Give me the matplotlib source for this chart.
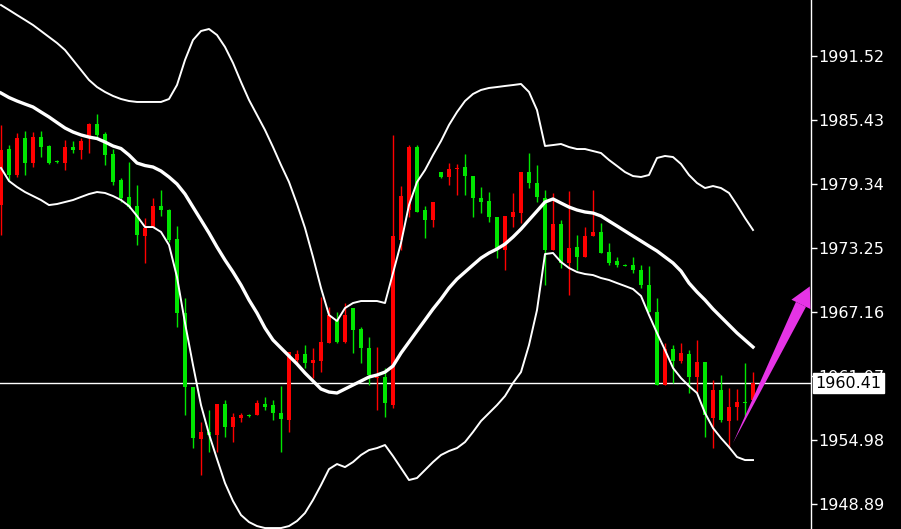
import numpy as np
import matplotlib
matplotlib.use("Agg")
import matplotlib.pyplot as plt

# K线数据 (开, 高, 低, 收)
opens = [1977.34, 1982.67, 1980.20, 1983.72, 1981.34, 1983.81, 1982.96, 1981.53, 1981.34, 1982.86,
         1982.58, 1983.81, 1985.05, 1984.10, 1982.20, 1979.72, 1978.11, 1977.25, 1974.39, 1975.25,
         1977.25, 1976.87, 1974.11, 1967.07, 1960.03, 1955.08, 1955.75, 1955.46, 1958.41, 1956.22,
         1957.08, 1957.36, 1957.36, 1958.41, 1958.31, 1957.55, 1956.89, 1962.60, 1963.17, 1962.31,
         1962.50, 1964.21, 1966.40, 1964.31, 1967.54, 1965.55, 1963.74, 1960.88, 1960.98, 1958.31,
         1974.01, 1976.87, 1982.86, 1976.87, 1975.92, 1980.48, 1980.01, 1980.77, 1980.96, 1980.10,
         1978.01, 1977.73, 1976.20, 1973.06, 1976.20, 1976.58, 1980.48, 1979.44, 1978.01, 1973.06,
         1975.54, 1971.83, 1973.35, 1972.40, 1974.39, 1974.78, 1972.87, 1972.02, 1971.64, 1971.64,
         1971.16, 1969.73, 1967.16, 1960.22, 1963.64, 1962.50, 1963.17, 1960.98, 1962.41, 1957.08,
         1959.74, 1956.79, 1958.12, 1958.60, 1958.79]
highs = [1984.96, 1983.05, 1984.19, 1984.39, 1984.29, 1984.39, 1983.05, 1981.63, 1983.53, 1983.43,
         1983.72, 1985.15, 1986.00, 1984.29, 1982.67, 1979.91, 1981.44, 1979.25, 1976.11, 1978.01,
         1978.77, 1976.96, 1975.35, 1968.50, 1960.03, 1956.70, 1957.84, 1958.41, 1958.79, 1957.55,
         1957.55, 1957.46, 1958.79, 1959.08, 1958.79, 1960.12, 1963.36, 1963.55, 1964.02, 1963.74,
         1968.59, 1967.64, 1967.16, 1968.02, 1967.54, 1965.74, 1964.78, 1963.83, 1961.84, 1984.01,
         1979.15, 1983.05, 1983.05, 1977.25, 1977.63, 1980.48, 1981.34, 1981.25, 1982.20, 1980.10,
         1979.06, 1978.58, 1976.20, 1976.30, 1978.49, 1980.48, 1982.29, 1981.15, 1978.77, 1978.49,
         1975.92, 1978.68, 1974.49, 1975.25, 1978.77, 1975.63, 1973.73, 1972.40, 1971.73, 1972.40,
         1971.64, 1971.54, 1968.50, 1964.21, 1964.02, 1964.21, 1963.55, 1964.50, 1962.41, 1960.69,
         1961.17, 1959.93, 1959.84, 1962.31, 1961.45]
lows = [1974.49, 1979.72, 1980.01, 1980.20, 1980.96, 1981.91, 1981.25, 1981.34, 1980.67, 1982.29,
        1981.72, 1982.29, 1983.81, 1981.15, 1979.25, 1977.63, 1977.10, 1973.54, 1971.83, 1975.25,
        1976.30, 1973.82, 1965.74, 1957.36, 1954.22, 1951.65, 1953.84, 1953.84, 1955.27, 1954.79,
        1956.70, 1957.17, 1957.36, 1957.84, 1956.89, 1953.84, 1955.75, 1962.31, 1961.84, 1960.88,
        1961.45, 1964.21, 1964.21, 1964.21, 1963.26, 1962.31, 1960.22, 1957.84, 1957.17, 1958.03,
        1973.06, 1976.20, 1976.68, 1974.20, 1975.25, 1979.91, 1979.25, 1978.30, 1978.30, 1976.20,
        1976.58, 1975.73, 1972.30, 1971.16, 1975.25, 1975.63, 1978.96, 1977.63, 1969.73, 1973.06,
        1971.35, 1968.78, 1971.16, 1972.40, 1974.39, 1972.78, 1971.64, 1971.45, 1971.54, 1970.87,
        1969.45, 1967.16, 1960.22, 1960.22, 1960.41, 1962.31, 1959.46, 1959.55, 1955.27, 1954.22,
        1956.70, 1954.22, 1956.89, 1957.17, 1958.60]
closes = [1982.58, 1980.20, 1983.72, 1981.34, 1983.81, 1982.86, 1981.34, 1981.44, 1982.86, 1982.58,
          1983.43, 1985.05, 1984.01, 1982.10, 1979.53, 1978.01, 1977.15, 1974.49, 1975.16, 1977.25,
          1976.87, 1974.01, 1967.07, 1960.03, 1955.17, 1955.75, 1955.46, 1958.41, 1956.22, 1957.17,
          1957.36, 1957.27, 1958.50, 1958.12, 1957.55, 1956.98, 1963.36, 1963.17, 1962.31, 1962.60,
          1964.31, 1966.88, 1964.31, 1966.88, 1965.45, 1963.74, 1961.17, 1960.98, 1958.50, 1974.39,
          1978.20, 1982.86, 1976.68, 1975.92, 1977.63, 1980.01, 1980.77, 1980.87, 1980.10, 1978.01,
          1977.63, 1976.20, 1973.06, 1976.30, 1976.68, 1980.48, 1979.44, 1978.11, 1973.06, 1975.54,
          1971.83, 1973.25, 1972.40, 1974.39, 1974.78, 1972.78, 1971.83, 1971.64, 1971.54, 1971.16,
          1969.73, 1967.16, 1960.22, 1963.64, 1962.50, 1963.26, 1960.98, 1962.41, 1957.36, 1959.74,
          1956.89, 1958.12, 1958.60, 1958.50, 1960.41]

# 布林带 上轨 / 中轨 / 下轨
boll_upper = [1996.37, 1995.90, 1995.42, 1994.95, 1994.47, 1993.90, 1993.33, 1992.76, 1992.09, 1991.14,
              1990.19, 1989.24, 1988.57, 1988.10, 1987.72, 1987.43, 1987.24, 1987.15, 1987.15, 1987.15,
              1987.15, 1987.43, 1988.76, 1991.14, 1993.04, 1993.90, 1994.09, 1993.52, 1992.38, 1990.86,
              1989.05, 1987.34, 1985.91, 1984.48, 1982.86, 1981.15, 1979.53, 1977.44, 1975.16, 1972.40,
              1969.45, 1966.88, 1966.31, 1967.54, 1968.02, 1968.21, 1968.21, 1968.21, 1968.02, 1970.87,
              1973.73, 1977.34, 1979.53, 1980.67, 1982.10, 1983.43, 1984.96, 1986.19, 1987.24, 1987.91,
              1988.29, 1988.48, 1988.57, 1988.67, 1988.76, 1988.86, 1988.10, 1986.38, 1982.96, 1983.05,
              1983.15, 1982.86, 1982.67, 1982.67, 1982.48, 1982.29, 1981.63, 1981.06, 1980.48, 1980.10,
              1980.01, 1980.20, 1981.82, 1982.01, 1981.91, 1981.25, 1980.20, 1979.44, 1978.96, 1979.15,
              1978.96, 1978.49, 1977.34, 1976.11, 1974.97]
boll_mid = [1988.00, 1987.57, 1987.24, 1986.95, 1986.67, 1986.19, 1985.72, 1985.19, 1984.67, 1984.29,
            1984.01, 1983.81, 1983.67, 1983.34, 1982.96, 1982.72, 1982.10, 1981.34, 1981.10, 1980.96,
            1980.58, 1980.01, 1979.34, 1978.39, 1977.15, 1975.92, 1974.68, 1973.35, 1972.11, 1970.97,
            1969.73, 1968.31, 1967.07, 1965.64, 1964.50, 1963.74, 1962.98, 1962.22, 1961.36, 1960.60,
            1959.84, 1959.55, 1959.46, 1959.84, 1960.22, 1960.60, 1960.98, 1961.17, 1961.45, 1962.03,
            1963.26, 1964.31, 1965.36, 1966.40, 1967.45, 1968.40, 1969.45, 1970.30, 1970.97, 1971.64,
            1972.30, 1972.78, 1973.16, 1973.63, 1974.30, 1975.06, 1975.92, 1976.77, 1977.63, 1977.92,
            1977.53, 1977.15, 1976.87, 1976.68, 1976.58, 1976.30, 1975.82, 1975.35, 1974.87, 1974.39,
            1973.92, 1973.44, 1972.97, 1972.40, 1971.83, 1971.06, 1969.92, 1969.07, 1968.31, 1967.45,
            1966.69, 1965.93, 1965.17, 1964.50, 1963.83]
boll_lower = [1980.87, 1979.63, 1979.06, 1978.58, 1978.20, 1977.82, 1977.34, 1977.44, 1977.63, 1977.82,
              1978.11, 1978.39, 1978.58, 1978.49, 1978.20, 1977.82, 1977.25, 1976.30, 1975.25, 1975.25,
              1974.78, 1973.54, 1970.49, 1966.12, 1962.12, 1958.31, 1955.55, 1953.18, 1950.89, 1949.18,
              1947.85, 1947.18, 1946.80, 1946.61, 1946.61, 1946.61, 1946.80, 1947.28, 1948.04, 1949.28,
              1950.70, 1952.22, 1952.70, 1952.41, 1952.89, 1953.56, 1954.03, 1954.22, 1954.51, 1953.46,
              1952.32, 1951.18, 1951.37, 1952.13, 1952.89, 1953.56, 1953.94, 1954.22, 1954.79, 1955.75,
              1956.79, 1957.55, 1958.31, 1959.17, 1960.41, 1961.45, 1964.02, 1967.35, 1972.68, 1972.78,
              1971.92, 1971.35, 1970.97, 1970.78, 1970.68, 1970.40, 1970.21, 1969.92, 1969.64, 1969.35,
              1968.69, 1966.88, 1965.17, 1963.55, 1961.84, 1960.88, 1960.12, 1959.46, 1957.55, 1956.13,
              1955.17, 1954.32, 1953.37, 1953.08, 1953.08]

price_ticks = [1948.89, 1954.98, 1961.07, 1967.16, 1973.25, 1979.34, 1985.43, 1991.52]
last_price = 1960.41
# 箭头 (起点 K线序号/价格, 箭头根部, 终点)
arrow_from = (91.5, 1954.70)
arrow_base = (100.0, 1967.90)
arrow_to = (101.1, 1969.60)

n = len(closes)
idx = np.arange(n)
o = np.array(opens)
c = np.array(closes)
h = np.array(highs)
l = np.array(lows)

# 红涨绿跌
colors = np.where(c >= o, '#ff0000', '#00e600')

fig = plt.figure(figsize=(9.01, 5.29), dpi=100, facecolor='black')
ax = fig.add_axes([0, 0, 811 / 901, 1])
ax.set_facecolor('black')

ax.vlines(idx, l, h, colors=colors, linewidth=1.0, zorder=2)
body = np.maximum(np.abs(c - o), 0.12)
ax.bar(idx, body, bottom=np.minimum(o, c), width=0.62, color=colors, linewidth=0, zorder=2)

ax.plot(idx, boll_upper, color='white', linewidth=1.4, zorder=3)
ax.plot(idx, boll_mid, color='white', linewidth=2.4, zorder=3)
ax.plot(idx, boll_lower, color='white', linewidth=1.4, zorder=3)

ax.axhline(last_price, color='white', linewidth=1.0, zorder=1)

# 箭头：尾部尖细向上变粗（wedge），顶端箭头（simple）
arrow_color = '#e534e5'
ax.annotate('', xy=arrow_from, xytext=arrow_base,
            arrowprops=dict(arrowstyle='wedge,tail_width=0.45,shrink_factor=0.5',
                            mutation_scale=18, color=arrow_color, linewidth=0,
                            shrinkA=0, shrinkB=0),
            zorder=4, annotation_clip=False)
ax.annotate('', xy=arrow_to, xytext=arrow_base,
            arrowprops=dict(arrowstyle='simple,head_length=0.8,head_width=0.85,tail_width=0.45',
                            mutation_scale=18, color=arrow_color, linewidth=0,
                            shrinkA=0, shrinkB=0),
            zorder=4, annotation_clip=False)

ax.set_xlim(-0.125, 101.25)
ax.set_ylim(1946.52, 1996.85)

ax.yaxis.tick_right()
ax.set_yticks(price_ticks)
ax.set_yticklabels([f'{v:.2f}' for v in price_ticks])
ax.tick_params(axis='y', colors='white', labelcolor='white', labelsize=11.5,
               length=4, width=1, direction='out', pad=1)
ax.set_xticks([])
for side in ['top', 'bottom', 'left']:
    ax.spines[side].set_visible(False)
ax.spines['right'].set_color('white')
ax.spines['right'].set_linewidth(1.0)

# 当前价格标签
ax.text(1.005, last_price, f'{last_price:.2f}', transform=ax.get_yaxis_transform(),
        ha='left', va='center', fontsize=11.5, color='black', zorder=10,
        bbox=dict(boxstyle='square,pad=0.15', facecolor='white', edgecolor='white'),
        clip_on=False)

fig.savefig('out.png', dpi=100, facecolor='black')
